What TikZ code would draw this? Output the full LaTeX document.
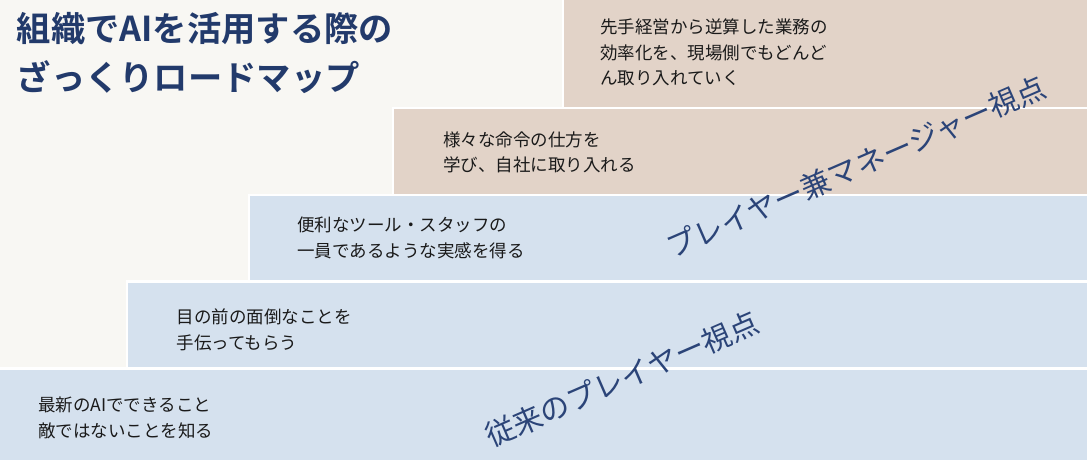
\documentclass[tikz,border=0pt]{standalone}
\usepackage{fontspec}
\setmainfont{Noto Sans CJK JP}[BoldFont={Noto Sans CJK JP Bold}]
\definecolor{bgc}{HTML}{F8F7F3}
\definecolor{beige}{HTML}{E2D3C8}
\definecolor{bluec}{HTML}{D5E1EE}
\definecolor{navy}{HTML}{223A6B}
\definecolor{diag}{HTML}{2B4478}
\definecolor{bodyc}{HTML}{1A1A1A}
\begin{document}
\begin{tikzpicture}[x=1pt,y=-1pt,
  band/.style={draw=white,line width=2.5pt},
  body/.style={anchor=west,inner sep=0pt,align=left,text=bodyc,font=\fontsize{17.5}{25.5}\selectfont},
  diagtext/.style={inner sep=0pt,text=diag,font=\fontsize{29.5}{32}\selectfont,rotate=23.5},
  titletext/.style={anchor=west,inner sep=0pt,align=left,text=navy,font=\bfseries\fontsize{34.3}{48.5}\selectfont}]
\useasboundingbox (0,0) rectangle (1087,459);
\fill[bgc] (0,0) rectangle (1087,459);
\path[band,fill=beige] (563,-5) rectangle (1092,107.75);
\path[band,fill=beige] (393,107.75) rectangle (1092,195);
\path[band,fill=bluec] (249,195) rectangle (1092,281.5);
\path[band,fill=bluec] (127,281.5) rectangle (1092,368.5);
\path[band,fill=bluec] (-5,368.5) rectangle (1092,465);
\node[titletext] (title) at (16.5,53) {組織でAIを活用する際の\\ざっくりロードマップ};
\node[body] (t1) at (600,52.5) {先手経営から逆算した業務の\\効率化を、現場側でもどんど\\ん取り入れていく};
\node[body] (t2) at (443,152.5) {様々な命令の仕方を\\学び、自社に取り入れる};
\node[body] (t3) at (297,238) {便利なツール・スタッフの\\一員であるような実感を得る};
\node[body] (t4) at (176.5,330) {目の前の面倒なことを\\手伝ってもらう};
\node[body] (t5) at (38,418) {最新のAIでできること\\敵ではないことを知る};
\node[diagtext] (d1) at (856,167) {プレイヤー兼マネージャー視点};
\node[diagtext] (d2) at (622,379) {従来のプレイヤー視点};
\end{tikzpicture}
\end{document}
